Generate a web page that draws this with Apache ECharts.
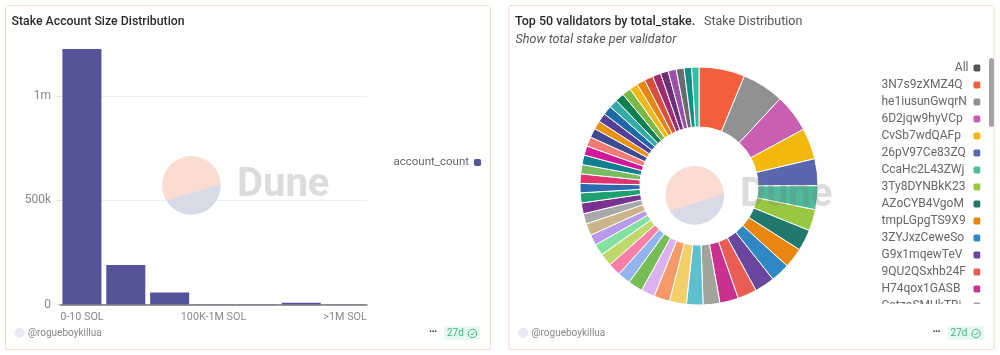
<!DOCTYPE html>
<html><head><meta charset="utf-8">
<style>html,body{margin:0;padding:0;background:#fff}#c{width:1000px;height:355px}</style>
<script src="https://cdn.jsdelivr.net/npm/echarts@6/dist/echarts.min.js"></script>
</head><body><div id="c"></div>
<script>
const FONT = 'Roboto,"Noto Sans",sans-serif';
const sizeCategories = ['0-10 SOL','10-100 SOL','100-1K SOL','100K-1M SOL','10K-100K SOL','1K-10K SOL','>1M SOL'];
const accountCount = [1225000,190000,58000,1500,1500,8000,1500];
const validatorNames = ['3N7s9zXMZ4QqvHQR','he1iusunGwqrNtafD','6D2jqw9hyVCpppZ','CvSb7wdQAFpHuSp','26pV97Ce83ZQ6Kt','CcaHc2L43ZWjwCH','3Ty8DYNBkK237Ss','AZoCYB4VgoM9Dqr','tmpLGpgTS9X9jkL','3ZYJxzCeweSoh2Q','G9x1mqewTeVnXzk','9QU2QSxhb24FUX3','H74qox1GASBWeYt','CatzoSMUkTRidT6'];
const otherValidators = ['v15','v16','v17','v18','v19','v20','v21','v22','v23','v24','v25','v26','v27','v28','v29','v30','v31','v32','v33','v34','v35','v36','v37','v38','v39','v40','v41','v42','v43','v44','v45','v46','v47','v48','v49','v50'];
const totalStake = [22.2,20.3,18.4,15.1,13,11.6,10.3,10.3,9.7,9.3,9.7,9.3,9,8.1,8,8.2,7.7,6.6,7.1,6.3,6.1,6.2,5.5,5.2,5.8,5,5.2,4.9,4.5,4.6,4.5,4.6,4.5,4.6,4.5,4.1,4.3,4.4,4.2,4.3,4.3,4,4.1,4.2,4,3.8,3.9,3.8,3.7,3.5];
const sliceColors = ['#f4603e','#919191','#c95fb2','#f2b90c','#5a66ad','#4ebb9b','#98c83f','#20796a','#e8860f','#2f88c4','#6a479e','#ea5d55','#c9308f','#a0a49a','#5ebfcf','#f3cf6a','#f59a66','#dab2ee','#77bd55','#94b4ee','#f780a8','#c0d96c','#84e0a0','#b79be8','#cbb48a','#a8a8a8','#7a3290','#1fa071','#2b6cb0','#e0336f','#78bb60','#0f7f8f','#d0189a','#f47b72','#3f4a90','#e8920f','#563d98','#1e68a8','#35aaa8','#0f8050','#7ab848','#f0b814','#e8860f','#d8503c','#a02c70','#6e2f78','#9a4fa8','#6a6a6a','#0f8f88','#2cc0a0'];
const allNames = validatorNames.concat(otherValidators);

function logo(dx, dy){
  const pts = [];
  for (let a = -2; a <= 148.5; a += 3) {
    const r = a * Math.PI / 180;
    pts.push([191.3 + 29.3 * Math.cos(r), 185.3 + 29.3 * Math.sin(r)]);
  }
  return [
    {type:'circle',x:dx,y:dy,z:20,silent:true,shape:{cx:191.3,cy:185.3,r:29.3},style:{fill:'#fbdcd3'}},
    {type:'polygon',x:dx,y:dy,z:21,silent:true,shape:{points:pts},style:{fill:'#d9dae8'}}
  ];
}
function footer(dx){
  return [
    {type:'circle',z:5,silent:true,shape:{cx:19.5+dx,cy:333,r:5},style:{fill:'#e9e7f8'}},
    {type:'text',z:5,silent:true,style:{x:28+dx,y:333,text:'@rogueboykillua',fill:'#868686',font:'10px '+FONT,textVerticalAlign:'middle'}},
    {type:'text',z:5,silent:true,style:{x:433+dx,y:332.5,text:'•••',fill:'#333',font:'bold 7px '+FONT,textAlign:'center',textVerticalAlign:'middle'}},
    {type:'rect',z:5,silent:true,shape:{x:444+dx,y:326,width:36,height:14,r:2},style:{fill:'#e6f8ef'}},
    {type:'text',z:6,silent:true,style:{x:447+dx,y:333,text:'27d',fill:'#3fb889',font:'10px '+FONT,textVerticalAlign:'middle'}},
    {type:'circle',z:6,silent:true,shape:{cx:472.5+dx,cy:333.5,r:4.2},style:{fill:'none',stroke:'#3fb889',lineWidth:1}},
    {type:'polyline',z:6,silent:true,shape:{points:[[470.7+dx,333.5],[472+dx,335],[474.4+dx,332.2]]},style:{fill:'none',stroke:'#3fb889',lineWidth:1}}
  ];
}
const graphics = [
  {type:'rect',z:0,silent:true,shape:{x:5.5,y:5.5,width:485,height:344,r:2},style:{fill:'none',stroke:'#f6d9d0',lineWidth:1}},
  {type:'rect',z:0,silent:true,shape:{x:509,y:5.5,width:485,height:344,r:2},style:{fill:'none',stroke:'#f6d9d0',lineWidth:1}},
  {type:'text',z:5,silent:true,style:{x:11.5,y:22,text:'Stake Account Size Distribution',fill:'#2a2a2a',font:'500 12.3px '+FONT,textVerticalAlign:'middle'}},
  {type:'text',z:5,silent:true,style:{x:515,y:22,text:'Top 50 validators by total_stake.',fill:'#2a2a2a',font:'500 12.5px '+FONT,textVerticalAlign:'middle'}},
  {type:'text',z:5,silent:true,style:{x:704,y:22,text:'Stake Distribution',fill:'#555',font:'12.5px '+FONT,textVerticalAlign:'middle'}},
  {type:'text',z:5,silent:true,style:{x:515.5,y:40,text:'Show total stake per validator',fill:'#555',font:'italic 12.6px '+FONT,textVerticalAlign:'middle'}},
  {type:'text',z:22,silent:true,style:{x:237,y:186,text:'Dune',fill:'rgba(120,120,120,0.26)',font:'700 40px '+FONT,textVerticalAlign:'middle'}},
  {type:'text',z:22,silent:true,style:{x:740,y:196,text:'Dune',fill:'rgba(120,120,120,0.26)',font:'700 40px '+FONT,textVerticalAlign:'middle'}},
  {type:'rect',z:8,silent:true,shape:{x:989,y:58,width:5,height:69,r:2.5},style:{fill:'#a3a3a3'}}
].concat(logo(0,0),logo(503.4,10),footer(0),footer(503.6));

const chart = echarts.init(document.getElementById('c'),null,{renderer:'canvas'});
chart.setOption({
  animation:false,
  textStyle:{fontFamily:FONT},
  graphic:graphics,
  grid:{left:60,top:43.9,width:307,height:260.6,containLabel:false},
  xAxis:{type:'category',data:sizeCategories,
    axisLine:{lineStyle:{color:'#777',width:1.5}},axisTick:{show:false},
    axisLabel:{interval:2,color:'#888',fontSize:10.8,margin:7,hideOverlap:false}},
  yAxis:{type:'value',min:0,max:1250000,interval:500000,
    axisLine:{show:false},axisTick:{show:true,length:3,lineStyle:{color:'#ddd'}},
    splitLine:{lineStyle:{color:'#eeeeee'},showMaxLine:false},
    axisLabel:{color:'#888',fontSize:12,margin:9,showMaxLabel:false,
      formatter:v=>v===0?'0':v>=1e6?(v/1e6)+'m':(v/1e3)+'k'}},
  legend:[
    {data:['account_count'],orient:'vertical',align:'right',right:514,top:151.5,itemWidth:7,itemHeight:7,icon:'roundRect',
     itemStyle:{borderWidth:0},textStyle:{color:'#666',fontSize:11.5}},
    {type:'scroll',data:['All'].concat(validatorNames),orient:'vertical',align:'right',right:14.5,top:56,height:244,
     itemWidth:7,itemHeight:7,itemGap:3,icon:'roundRect',itemStyle:{borderWidth:0},
     pageIconSize:0,pageButtonGap:0,pageFormatter:'',pageTextStyle:{fontSize:1,color:'transparent'},
     formatter:n=>n==='All'?n:'{a|'+echarts.format.truncateText(n,87,'12px Roboto','')+'}',
     textStyle:{color:'#666',fontSize:12,lineHeight:14,
       rich:{a:{width:87,align:'left',color:'#666',fontSize:12,lineHeight:14}}}}
  ],
  series:[
    {name:'account_count',type:'bar',data:accountCount,barCategoryGap:'11%',itemStyle:{color:'#54549a'},z:3},
    {name:'total_stake',type:'pie',center:[699,186],radius:[59,119],startAngle:90,clockwise:true,
     label:{show:false},labelLine:{show:false},emphasis:{scale:false},
     itemStyle:{borderColor:'#fff',borderWidth:1},
     data:allNames.map((n,i)=>({name:n,value:totalStake[i],itemStyle:{color:sliceColors[i]}}))
       .concat([{name:'All',value:0,itemStyle:{color:'#555',borderWidth:0}}])}
  ]
});
</script></body></html>
